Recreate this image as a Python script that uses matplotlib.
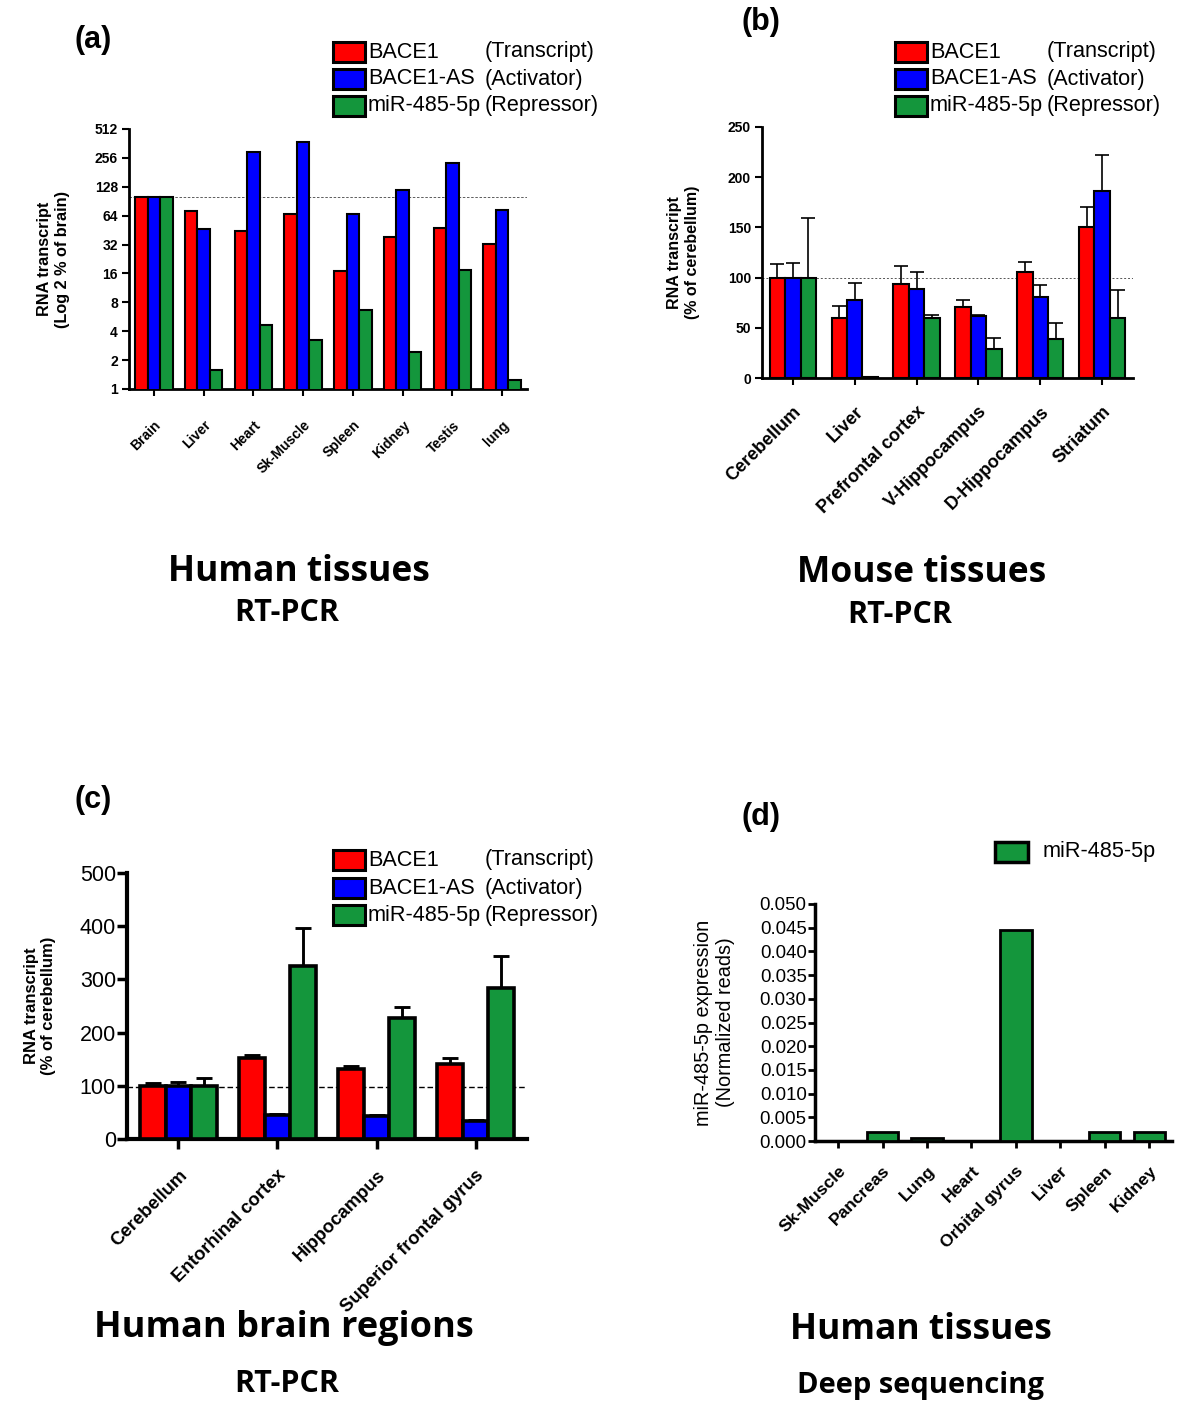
import numpy as np
import matplotlib
matplotlib.use('Agg')
import matplotlib.pyplot as plt
from matplotlib.patches import Rectangle

plt.rcParams['font.family'] = ['Liberation Sans', 'DejaVu Sans']

# ---- data ----
series_names = ['BACE1', 'BACE1-AS', 'miR-485-5p']
series_roles = ['(Transcript)', '(Activator)', '(Repressor)']
colors = ['#FF0000', '#0000FF', '#14963C']

# (a) human tissues, RT-PCR, log2 % of brain
tissues_a = ['Brain', 'Liver', 'Heart', 'Sk-Muscle', 'Spleen', 'Kidney', 'Testis', 'lung']
bace1_a = [100, 71, 44, 66, 16.8, 38.8, 48, 32.5]
bace1as_a = [100, 46.6, 297, 374, 66, 118, 224, 74]
mir_a = [100, 1.59, 4.6, 3.23, 6.7, 2.44, 17.4, 1.23]
yticks_a = [1, 2, 4, 8, 16, 32, 64, 128, 256, 512]

# (b) mouse tissues, % of cerebellum
tissues_b = ['Cerebellum', 'Liver', 'Prefrontal cortex', 'V-Hippocampus', 'D-Hippocampus', 'Striatum']
bace1_b = [100, 59.3, 93.7, 70.9, 105.3, 150.3]
bace1_b_err = [13.9, 12.7, 17.9, 6.6, 10.7, 20.2]
bace1as_b = [100, 78, 88.4, 61.6, 80.8, 185.8]
bace1as_b_err = [14.6, 17, 17.2, 1.6, 11.9, 36.7]
mir_b = [100, 0.5, 59.3, 29, 39, 59.3]
mir_b_err = [59, 0, 3.7, 10.7, 15.3, 28.1]

# (c) human brain regions, % of cerebellum
regions_c = ['Cerebellum', 'Entorhinal cortex', 'Hippocampus', 'Superior frontal gyrus']
bace1_c = [100.4, 151.8, 131.7, 140.5]
bace1_c_err = [4.6, 5.7, 5.7, 12.5]
bace1as_c = [100, 44.5, 43, 34]
bace1as_c_err = [8, 2.5, 1.5, 1]
mir_c = [100, 325, 227, 283.6]
mir_c_err = [15, 71.5, 22, 60.2]

# (d) deep sequencing, normalized reads
tissues_d = ['Sk-Muscle', 'Pancreas', 'Lung', 'Heart', 'Orbital gyrus', 'Liver', 'Spleen', 'Kidney']
mir_d = [0, 0.002, 0.00056, 0.0001, 0.0445, 0, 0.002, 0.002]


def fx(px):
    return px / 1200


def fy(py):
    return 1 - py / 1420


def style_axes(ax, lw):
    ax.spines['top'].set_visible(False)
    ax.spines['right'].set_visible(False)
    ax.spines['left'].set_linewidth(lw)
    ax.spines['bottom'].set_linewidth(lw)


def draw_legend(fig, x0, ys, names, roles, cols, role_x):
    for y, n, r, c in zip(ys, names, roles, cols):
        fig.patches.append(Rectangle((fx(x0), fy(y + 10)), 32 / 1200, 20 / 1420,
                                     facecolor=c, edgecolor='black', linewidth=2.2,
                                     transform=fig.transFigure, figure=fig))
        fig.text(fx(x0 + 35), fy(y), n, fontsize=15.6, va='center', ha='left')
        if r:
            fig.text(fx(role_x), fy(y), r, fontsize=15.6, va='center', ha='left')


def grouped(ax, n, series, errs, width, lw, cap):
    x = np.arange(n)
    for i, (vals, c) in enumerate(zip(series, colors)):
        xi = x + (i - 1) * width
        ax.bar(xi, vals, width, color=c, edgecolor='black', linewidth=lw, zorder=3)
        if errs is not None:
            ax.errorbar(xi, vals, yerr=[np.zeros(n), errs[i]], fmt='none', ecolor='black',
                        elinewidth=lw * 0.8, capsize=cap, capthick=lw * 0.8, zorder=2)
    return x


fig = plt.figure(figsize=(12, 14.2), dpi=100)

# ---- (a) ----
ax = fig.add_axes([fx(129), fy(389), 398 / 1200, 260 / 1420])
x = grouped(ax, len(tissues_a), [bace1_a, bace1as_a, mir_a], None, 0.25, 1.5, 0)
ax.set_yscale('log', base=2)
ax.set_ylim(1, 512)
ax.set_yticks(yticks_a)
ax.set_yticklabels([str(v) for v in yticks_a], fontsize=10, fontweight='bold')
ax.minorticks_off()
ax.set_xlim(-0.5, 7.5)
ax.set_xticks(x)
ax.set_xticklabels(tissues_a, rotation=45, ha='right', rotation_mode='anchor',
                   fontsize=10, fontweight='bold')
ax.tick_params(axis='x', pad=16, length=5, width=1.5)
ax.tick_params(axis='y', length=5, width=1.5, pad=3)
ax.axhline(100, color='#444444', linestyle=(0, (3, 2)), linewidth=0.6, zorder=1)
style_axes(ax, 2)
ax.set_ylabel('RNA transcript\n(Log 2 % of brain)', fontsize=11.7, fontweight='bold', labelpad=18)

# ---- (b) ----
ax = fig.add_axes([fx(762), fy(378), 371 / 1200, 251 / 1420])
x = grouped(ax, len(tissues_b), [bace1_b, bace1as_b, mir_b],
            [bace1_b_err, bace1as_b_err, mir_b_err], 0.25, 1.5, 5)
ax.set_ylim(0, 250)
ax.set_yticks([0, 50, 100, 150, 200, 250])
ax.set_yticklabels(['0', '50', '100', '150', '200', '250'], fontsize=10, fontweight='bold')
ax.set_xlim(-0.5, 5.5)
ax.set_xticks(x)
ax.set_xticklabels(tissues_b, rotation=45, ha='right', rotation_mode='anchor',
                   fontsize=13, fontweight='bold')
ax.tick_params(axis='x', pad=13, length=5, width=1.5)
ax.tick_params(axis='y', length=5, width=1.5, pad=3)
ax.axhline(100, color='#555555', linestyle=(0, (2, 2)), linewidth=0.7, zorder=1)
style_axes(ax, 2)
ax.set_ylabel('RNA transcript\n(% of cerebellum)', fontsize=11.5, fontweight='bold', labelpad=20)

# ---- (c) ----
ax = fig.add_axes([fx(127), fy(1139), 400 / 1200, 266 / 1420])
x = grouped(ax, len(regions_c), [bace1_c, bace1as_c, mir_c],
            [bace1_c_err, bace1as_c_err, mir_c_err], 0.26, 2.6, 6)
ax.set_ylim(0, 500)
ax.set_yticks([0, 100, 200, 300, 400, 500])
ax.set_yticklabels(['0', '100', '200', '300', '400', '500'], fontsize=15.5)
ax.set_xlim(-0.52, 3.52)
ax.set_xticks(x)
ax.set_xticklabels(regions_c, rotation=45, ha='right', rotation_mode='anchor',
                   fontsize=13.3, fontweight='bold')
ax.tick_params(axis='x', pad=13, length=7, width=2.5)
ax.tick_params(axis='y', length=7, width=2.5, pad=1)
ax.axhline(97, color='black', linestyle=(0, (4, 2)), linewidth=1, zorder=1)
style_axes(ax, 3)
ax.set_ylabel('RNA transcript\n(% of cerebellum)', fontsize=12, fontweight='bold', labelpad=17)

# ---- (d) ----
ax = fig.add_axes([fx(815), fy(1141), 357 / 1200, 237 / 1420])
x = np.arange(len(tissues_d))
ax.bar(x, mir_d, 0.7, color=colors[2], edgecolor='black', linewidth=2, zorder=3)
ax.set_ylim(0, 0.05)
yt_d = np.arange(0, 0.0501, 0.005)
ax.set_yticks(yt_d)
ax.set_yticklabels(['%.3f' % v for v in yt_d], fontsize=13.4)
ax.set_xlim(-0.52, 7.51)
ax.set_xticks(x)
ax.set_xticklabels(tissues_d, rotation=45, ha='right', rotation_mode='anchor',
                   fontsize=12.6, fontweight='bold')
ax.tick_params(axis='x', pad=11, length=5, width=2)
ax.tick_params(axis='y', length=5, width=2, pad=1)
style_axes(ax, 2.5)
ax.set_ylabel('miR-485-5p expression\n(Normalized reads)', fontsize=14.3, labelpad=18)

# ---- legends ----
draw_legend(fig, 333, [52, 79, 106], series_names, series_roles, colors, 485)
draw_legend(fig, 895, [52, 79, 106], series_names, series_roles, colors, 1047)
draw_legend(fig, 333, [860, 888, 915], series_names, series_roles, colors, 485)
fig.patches.append(Rectangle((fx(995), fy(862)), 33 / 1200, 20 / 1420,
                             facecolor=colors[2], edgecolor='black', linewidth=2.5,
                             transform=fig.transFigure, figure=fig))
fig.text(fx(1043), fy(852), 'miR-485-5p', fontsize=15.6, va='center', ha='left')

# ---- panel letters ----
for lab, px, py in [('(a)', 75, 40), ('(b)', 741, 22), ('(c)', 75, 800), ('(d)', 741, 817)]:
    fig.text(fx(px), fy(py), lab, fontsize=22, fontweight='bold', va='center', ha='left')

# ---- panel titles ----
tfont = ['Open Sans', 'DejaVu Sans']
for t, px, py, fs in [('Human tissues', 299, 572, 25.5), ('RT-PCR', 287, 613, 22),
                      ('Mouse tissues', 922, 573, 25.5), ('RT-PCR', 900, 615, 22),
                      ('Human brain regions', 284, 1328, 26), ('RT-PCR', 287, 1384, 22),
                      ('Human tissues', 921, 1330, 25.5), ('Deep sequencing', 920, 1386, 21)]:
    fig.text(fx(px), fy(py), t, fontsize=fs, fontweight='bold', family=tfont,
             va='center', ha='center')

fig.savefig('out.png', dpi=100)
